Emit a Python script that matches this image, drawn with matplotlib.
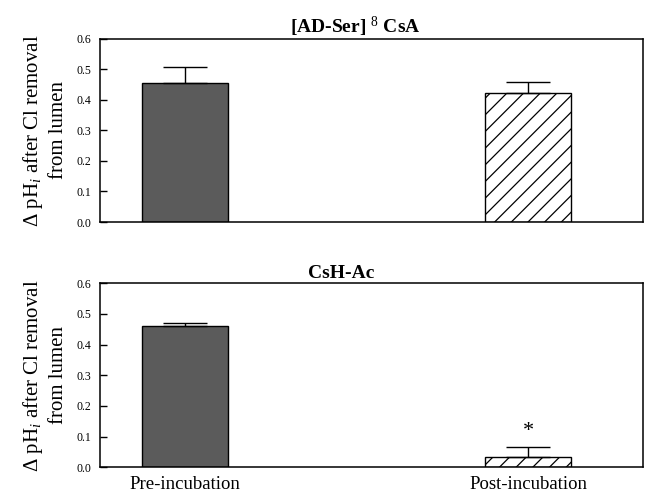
import matplotlib
matplotlib.use('agg')
import matplotlib.pyplot as plt

plt.rcParams['font.family'] = ['Liberation Serif', 'DejaVu Serif']
plt.rcParams['mathtext.fontset'] = 'custom'
plt.rcParams['mathtext.rm'] = 'Liberation Serif'
plt.rcParams['mathtext.it'] = 'Liberation Serif:italic'
plt.rcParams['hatch.linewidth'] = 0.9

groups = ['Pre-incubation', 'Post-incubation']
panel_titles = ['[AD-Ser] $^{8}$ CsA', 'CsH-Ac']
means_ser = [0.453, 0.421]
errs_ser = [0.053, 0.036]
means_csh = [0.461, 0.035]
errs_csh = [0.011, 0.032]
yticks = [0.0, 0.1, 0.2, 0.3, 0.4, 0.5, 0.6]
ylabel = '\u0394 pH$_i$ after Cl removal\nfrom lumen'

fig = plt.figure(figsize=(6.48, 4.95), dpi=100)
ax_top = fig.add_axes([0.1543, 0.5515, 0.838, 0.3707])
ax_bot = fig.add_axes([0.1543, 0.0560, 0.838, 0.3717])

xpos = [0, 1]
width = 0.25


def draw_panel(ax, means, errs, title, title_x):
    ax.bar(xpos[0], means[0], width, color='#5b5b5b', edgecolor='black', linewidth=1)
    ax.bar(xpos[1], means[1], width, color='white', edgecolor='black', linewidth=1, hatch='//')
    ax.errorbar(xpos, means, yerr=[[0, 0], errs], fmt='none', ecolor='black',
                elinewidth=1, capsize=15.5, capthick=1)
    ax.set_xlim(-0.248, 1.335)
    ax.set_ylim(0, 0.6)
    ax.set_yticks(yticks)
    ax.set_yticklabels(['%.1f' % t for t in yticks], fontsize=8.5)
    ax.tick_params(axis='y', direction='in', length=5, width=1, pad=6)
    ax.tick_params(axis='x', length=0)
    ax.set_ylabel(ylabel, fontsize=15, linespacing=1.35, labelpad=6)
    ax.set_title(title, fontsize=14, fontweight='bold', x=title_x, pad=4)
    for s in ax.spines.values():
        s.set_linewidth(1.1)


draw_panel(ax_top, means_ser, errs_ser, panel_titles[0], 0.47)
ax_top.set_xticks([])

draw_panel(ax_bot, means_csh, errs_csh, panel_titles[1], 0.445)
ax_bot.set_xticks(xpos)
ax_bot.set_xticklabels(groups, fontsize=13.5)
ax_bot.tick_params(axis='x', pad=6)

# significance marker above the post-incubation CsH-Ac bar
ax_bot.annotate('*', xy=(xpos[1], means_csh[1] + errs_csh[1]), xytext=(0, 4),
                textcoords='offset points', ha='center', va='bottom', fontsize=16)

fig.savefig('out.png', dpi=100)
